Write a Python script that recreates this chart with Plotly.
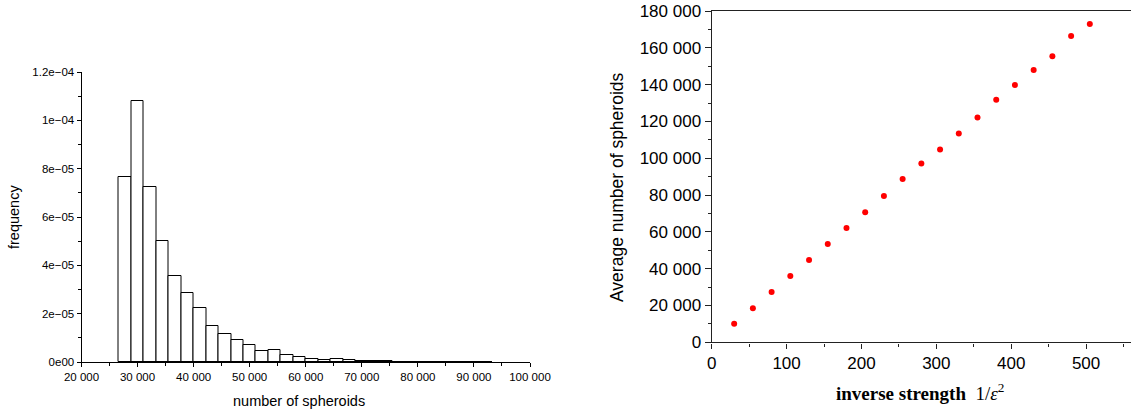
import plotly.graph_objects as go

# ---------------- data ----------------
# histogram (left): frequency per bin, bins of equal width starting at first_edge
first_edge = 80000 / 3          # ~26 667
bin_width = 20000 / 9           # ~2 222
freq = [7.67e-5, 1.078e-4, 7.23e-5, 5.02e-5, 3.57e-5, 2.86e-5, 2.25e-5, 1.49e-5,
        1.17e-5, 9.3e-6, 7.2e-6, 4.7e-6, 5.0e-6, 2.9e-6, 2.2e-6, 1.4e-6, 1.0e-6,
        1.2e-6, 0.7e-6, 0.5e-6, 0.4e-6, 0.3e-6, 0.2e-6, 0.15e-6, 0.1e-6, 0.1e-6,
        0.08e-6, 0.08e-6, 0.06e-6, 0.05e-6]

left_ytick_vals = [0, 2e-5, 4e-5, 6e-5, 8e-5, 1e-4, 1.2e-4]
left_ytick_text = ["0e00", "2e\u221205", "4e\u221205", "6e\u221205", "8e\u221205",
                   "1e\u221204", "1.2e\u221204"]

# scatter (right)
inv_strength = [30, 55, 80, 105, 130, 155, 180, 205, 230, 255,
                280, 305, 330, 355, 380, 405, 430, 455, 480, 505]
avg_spheroids = [10100, 18500, 27300, 36000, 44700, 53400, 62100, 70600, 79500, 88700,
                 97100, 104700, 113500, 122200, 131800, 139800, 147900, 155400, 166400, 172900]

# ---------------- figure ----------------
W, H = 1131, 410
centers = [first_edge + bin_width * (i + 0.5) for i in range(len(freq))]

fig = go.Figure()
fig.add_trace(go.Bar(
    x=centers, y=freq, width=bin_width,
    marker=dict(color="white", line=dict(color="black", width=1)),
    xaxis="x", yaxis="y", showlegend=False,
))
fig.add_trace(go.Scatter(
    x=inv_strength, y=avg_spheroids, mode="markers",
    marker=dict(color="#ff0000", size=6),
    xaxis="x2", yaxis="y2", showlegend=False,
))

def px_x(p):
    return p / W

def px_y(p):
    return 1 - p / H

font_main = "Liberation Sans, Arial, Helvetica, sans-serif"

fig.update_layout(
    template="none",
    width=W, height=H,
    margin=dict(l=0, r=0, t=0, b=0, autoexpand=False),
    paper_bgcolor="white", plot_bgcolor="white",
    separators=". ",
    font=dict(family=font_main, color="black"),
    bargap=0,
    xaxis=dict(
        domain=[px_x(81.5), px_x(530)],
        range=[20000, 100000],
        tickmode="array",
        tickvals=[20000, 30000, 40000, 50000, 60000, 70000, 80000, 90000, 100000],
        tickformat=",d",
        ticks="outside", ticklen=4, tickwidth=1, tickcolor="black",
        minor=dict(tickvals=[25000, 35000, 45000, 55000, 65000, 75000, 85000, 95000],
                   ticks="outside", ticklen=3, tickwidth=1, tickcolor="black"),
        showline=True, linecolor="black", linewidth=1,
        showgrid=False, zeroline=False, automargin=False,
        tickfont=dict(size=11.5, family=font_main),
        anchor="y", fixedrange=True,
    ),
    yaxis=dict(
        domain=[px_y(362), px_y(72)],
        range=[0, 1.2e-4],
        tickmode="array", tickvals=left_ytick_vals, ticktext=left_ytick_text,
        ticks="outside", ticklen=4, tickwidth=1, tickcolor="black",
        minor=dict(tickvals=[1e-5, 3e-5, 5e-5, 7e-5, 9e-5, 1.1e-4],
                   ticks="outside", ticklen=3, tickwidth=1, tickcolor="black"),
        showline=True, linecolor="black", linewidth=1,
        showgrid=False, zeroline=False, automargin=False,
        tickfont=dict(size=11.5, family=font_main),
        anchor="x", fixedrange=True,
    ),
    xaxis2=dict(
        domain=[px_x(711.7), 1.0],
        range=[0, 560],
        tickmode="linear", tick0=0, dtick=100,
        ticks="outside", ticklen=5, tickwidth=1, tickcolor="#222",
        minor=dict(tickmode="linear", tick0=50, dtick=100,
                   ticks="outside", ticklen=3, tickwidth=1, tickcolor="#222"),
        showline=True, mirror=True, linecolor="#222", linewidth=1.4,
        showgrid=False, zeroline=False, automargin=False,
        tickfont=dict(size=17, family=font_main),
        anchor="y2", fixedrange=True,
    ),
    yaxis2=dict(
        domain=[px_y(342.3), px_y(11)],
        range=[0, 180000],
        tickmode="linear", tick0=0, dtick=20000, tickformat=",d",
        ticks="outside", ticklen=6, tickwidth=1, tickcolor="#222",
        minor=dict(tickmode="linear", tick0=10000, dtick=20000,
                   ticks="outside", ticklen=3, tickwidth=1, tickcolor="#222"),
        showline=True, mirror=False, linecolor="#222", linewidth=1.4,
        showgrid=False, zeroline=False, automargin=False,
        tickfont=dict(size=17, family=font_main),
        anchor="x2", fixedrange=True,
    ),
    annotations=[
        dict(text="number of spheroids", x=px_x(298.5), y=px_y(401),
             xref="paper", yref="paper", showarrow=False,
             xanchor="center", yanchor="middle",
             font=dict(size=14.5, family=font_main, color="black")),
        dict(text="frequency", x=px_x(14), y=px_y(217),
             xref="paper", yref="paper", showarrow=False, textangle=-90,
             xanchor="center", yanchor="middle",
             font=dict(size=14.5, family=font_main, color="black")),
        dict(text="Average number of spheroids", x=px_x(617), y=px_y(187),
             xref="paper", yref="paper", showarrow=False, textangle=-90,
             xanchor="center", yanchor="middle",
             font=dict(size=17.5, family=font_main, color="black")),
        dict(text="<b>inverse strength</b>  1/<i>\u03b5</i><sup>2</sup>",
             x=px_x(920), y=px_y(392),
             xref="paper", yref="paper", showarrow=False,
             xanchor="center", yanchor="middle",
             font=dict(size=19, family="Liberation Serif, DejaVu Serif, serif", color="black")),
    ],
)

fig.write_html(
    "out.html",
    config={"displayModeBar": False},
    post_script="document.body.style.margin='0';document.body.style.padding='0';"
                "document.documentElement.style.overflow='hidden';",
)
